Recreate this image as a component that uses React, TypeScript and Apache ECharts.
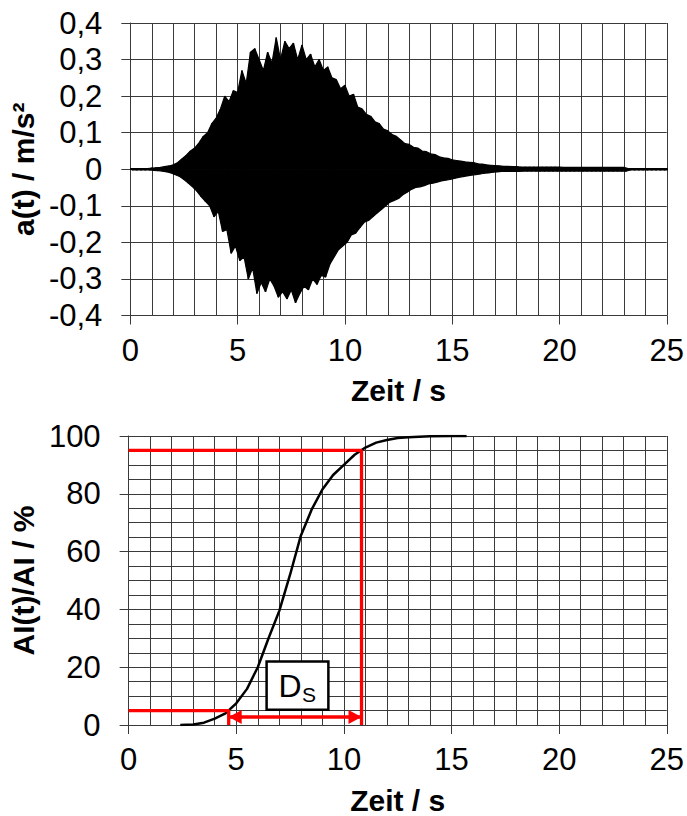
import React, { useEffect, useRef } from "react";
import * as echarts from "echarts";

const FONT = "'Liberation Sans', Arial, Helvetica, sans-serif";

// ---- Top chart: acceleration record a(t), sampled every 0.2 s (upper / lower peaks of the oscillation)
const ACC_T0 = 0;
const ACC_DT = 0.2;
const accUpper = [
  0.002, 0.002, 0.002, 0.002, 0.002, 0.003, 0.004, 0.005, 0.007, 0.009,
  0.012, 0.018, 0.028, 0.038, 0.05, 0.058, 0.072, 0.09, 0.1, 0.125,
  0.14, 0.165, 0.2, 0.185, 0.215, 0.21, 0.27, 0.235, 0.32, 0.33,
  0.3, 0.27, 0.32, 0.29, 0.36, 0.3, 0.35, 0.33, 0.345, 0.3,
  0.34, 0.3, 0.315, 0.28, 0.3, 0.27, 0.28, 0.25, 0.245, 0.22,
  0.23, 0.2, 0.205, 0.17, 0.165, 0.15, 0.145, 0.13, 0.125, 0.11,
  0.105, 0.095, 0.09, 0.08, 0.07, 0.068, 0.06, 0.058, 0.05, 0.048,
  0.042, 0.04, 0.034, 0.031, 0.03, 0.026, 0.024, 0.022, 0.02, 0.019,
  0.018, 0.015, 0.014, 0.012, 0.011, 0.01, 0.009, 0.008, 0.008, 0.007,
  0.007, 0.006, 0.006, 0.006, 0.006, 0.006, 0.006, 0.006, 0.006, 0.006,
  0.006, 0.005, 0.005, 0.005, 0.005, 0.005, 0.005, 0.005, 0.005, 0.005,
  0.005, 0.005, 0.005, 0.005, 0.005, 0.005, 0.002, 0.002, 0.002, 0.002,
  0.002, 0.002, 0.002, 0.002, 0.002, 0.002,
];
const accLower = [
  -0.002, -0.002, -0.002, -0.002, -0.002, -0.003, -0.004, -0.005, -0.007, -0.01,
  -0.015, -0.02, -0.028, -0.038, -0.048, -0.06, -0.075, -0.088, -0.1, -0.13,
  -0.115, -0.17, -0.165, -0.23, -0.21, -0.25, -0.24, -0.3, -0.27, -0.34,
  -0.31, -0.335, -0.3, -0.32, -0.35, -0.335, -0.355, -0.33, -0.365, -0.34,
  -0.32, -0.33, -0.3, -0.315, -0.29, -0.295, -0.26, -0.24, -0.22, -0.21,
  -0.2, -0.18, -0.175, -0.16, -0.145, -0.14, -0.13, -0.12, -0.11, -0.1,
  -0.09, -0.085, -0.08, -0.07, -0.063, -0.055, -0.05, -0.048, -0.045, -0.04,
  -0.038, -0.035, -0.032, -0.03, -0.028, -0.025, -0.022, -0.02, -0.018, -0.016,
  -0.015, -0.013, -0.011, -0.01, -0.008, -0.007, -0.006, -0.006, -0.006, -0.006,
  -0.006, -0.005, -0.005, -0.005, -0.005, -0.005, -0.005, -0.005, -0.005, -0.005,
  -0.005, -0.005, -0.005, -0.005, -0.005, -0.005, -0.005, -0.005, -0.005, -0.005,
  -0.005, -0.005, -0.005, -0.005, -0.005, -0.005, -0.002, -0.002, -0.002, -0.002,
  -0.002, -0.002, -0.002, -0.002, -0.002, -0.002,
];

// ---- Bottom chart: normalised Arias intensity AI(t)/AI in %
const aiTimes = [2.4, 3.0, 3.5, 4.0, 4.5, 5.0, 5.5, 6.0, 6.5, 7.0, 7.5, 8.0, 8.5, 9.0, 9.5, 10.0, 10.5, 11.0, 11.5, 12.0, 12.5, 13.0, 14.0, 15.0, 15.7];
const aiValues = [0, 0.2, 0.8, 2.2, 4.0, 7.5, 12.5, 20, 30, 39.5, 52, 65.5, 74.5, 81.5, 86.5, 90, 93.5, 96, 97.7, 98.6, 99.3, 99.6, 99.9, 100, 100];

// significant duration D_S (5 % .. 95 %)
const DS_LOW = 5;
const DS_HIGH = 95;
const DS_START = 4.65;
const DS_END = 10.82;
const ARROW_LEVEL = 2.8;
const DS_BOX_T = [6.41, 9.28];
const DS_BOX_V = [5.3, 22];

const X_TICKS = { min: 0, max: 25, interval: 5 };
const ACC_TICKS = { min: -0.4, max: 0.4, interval: 0.1 };
const AI_TICKS = { min: 0, max: 100, interval: 20 };

const GRID_COLOR = "#3a3a3a";
const LABEL_SIZE = 31;
const ARROW_SIZE = [14, 13];
const ARROW_OFFSET = [0, 6.5];

const sampleTime = (i: number) => ACC_T0 + i * ACC_DT;

function buildWave(): number[][] {
  const out: number[][] = [];
  for (let i = 0; i < accUpper.length; i++) {
    out.push([sampleTime(i), accUpper[i]]);
    out.push([sampleTime(i) + ACC_DT / 2, accLower[i]]);
  }
  return out;
}

function xAxis(gridIndex: number) {
  return {
    type: "value",
    gridIndex,
    min: X_TICKS.min,
    max: X_TICKS.max,
    interval: X_TICKS.interval,
    name: "Zeit / s",
    nameLocation: "middle",
    nameGap: 60,
    nameTextStyle: { fontSize: 30, fontWeight: "bold", color: "#000", fontFamily: FONT },
    axisLine: { show: true, onZero: false, lineStyle: { color: GRID_COLOR, width: 1 } },
    axisTick: { show: true, length: 9, inside: false, lineStyle: { color: GRID_COLOR, width: 1 } },
    axisLabel: { fontSize: LABEL_SIZE, color: "#000", fontFamily: FONT, margin: 19 },
    splitLine: { show: true, lineStyle: { color: GRID_COLOR, width: 1 } },
    minorTick: { show: false, splitNumber: 5 },
    minorSplitLine: { show: true, lineStyle: { color: GRID_COLOR, width: 1 } },
  };
}

const option = {
  animation: false,
  backgroundColor: "#ffffff",
  grid: [
    { left: 126, right: 18, top: 23, height: 292.5 },
    { left: 124.5, right: 18, top: 436, height: 292.3 },
  ],
  xAxis: [xAxis(0), xAxis(1)],
  yAxis: [
    {
      type: "value",
      gridIndex: 0,
      min: ACC_TICKS.min,
      max: ACC_TICKS.max,
      interval: ACC_TICKS.interval,
      name: "a(t) / m/s²",
      nameLocation: "middle",
      nameRotate: 90,
      nameGap: 89,
      nameTextStyle: { fontSize: 30, fontWeight: "bold", color: "#000", fontFamily: FONT },
      axisLine: { show: true, onZero: false, lineStyle: { color: GRID_COLOR, width: 1 } },
      axisTick: { show: true, length: 9, lineStyle: { color: GRID_COLOR, width: 1 } },
      axisLabel: {
        fontSize: LABEL_SIZE,
        color: "#000",
        fontFamily: FONT,
        margin: 28,
        formatter: (v: number) => (Math.abs(v) < 1e-9 ? "0" : v.toFixed(1).replace(".", ",")),
      },
      splitLine: { show: true, lineStyle: { color: GRID_COLOR, width: 1 } },
    },
    {
      type: "value",
      gridIndex: 1,
      min: AI_TICKS.min,
      max: AI_TICKS.max,
      interval: AI_TICKS.interval,
      name: "AI(t)/AI / %",
      nameLocation: "middle",
      nameRotate: 90,
      nameGap: 89,
      nameTextStyle: { fontSize: 30, fontWeight: "bold", color: "#000", fontFamily: FONT },
      axisLine: { show: true, onZero: false, lineStyle: { color: GRID_COLOR, width: 1 } },
      axisTick: { show: true, length: 9, lineStyle: { color: GRID_COLOR, width: 1 } },
      axisLabel: { fontSize: LABEL_SIZE, color: "#000", fontFamily: FONT, margin: 28 },
      splitLine: { show: true, lineStyle: { color: GRID_COLOR, width: 1 } },
      minorTick: { show: false, splitNumber: 4 },
      minorSplitLine: { show: true, lineStyle: { color: GRID_COLOR, width: 1 } },
    },
  ],
  series: [
    // upper peaks, filled down to zero
    {
      type: "line",
      xAxisIndex: 0,
      yAxisIndex: 0,
      data: accUpper.map((v, i) => [sampleTime(i), v]),
      showSymbol: false,
      silent: true,
      lineStyle: { color: "#000", width: 1.2 },
      areaStyle: { color: "#000", opacity: 1, origin: 0 },
      z: 2,
    },
    // lower peaks, filled up to zero
    {
      type: "line",
      xAxisIndex: 0,
      yAxisIndex: 0,
      data: accLower.map((v, i) => [sampleTime(i) + ACC_DT / 2, v]),
      showSymbol: false,
      silent: true,
      lineStyle: { color: "#000", width: 1.2 },
      areaStyle: { color: "#000", opacity: 1, origin: 0 },
      z: 2,
    },
    // oscillating signal
    {
      type: "line",
      xAxisIndex: 0,
      yAxisIndex: 0,
      data: buildWave(),
      showSymbol: false,
      silent: true,
      lineStyle: { color: "#000", width: 1.5 },
      z: 3,
    },
    {
      type: "line",
      xAxisIndex: 1,
      yAxisIndex: 1,
      data: aiTimes.map((t, i) => [t, aiValues[i]]),
      showSymbol: false,
      silent: true,
      lineStyle: { color: "#000", width: 2.5 },
      z: 3,
    },
    {
      type: "line",
      xAxisIndex: 1,
      yAxisIndex: 1,
      data: [[0, DS_HIGH], [DS_END, DS_HIGH], [DS_END, 0]],
      showSymbol: false,
      silent: true,
      lineStyle: { color: "#ff0000", width: 3.3 },
      z: 4,
    },
    {
      type: "line",
      xAxisIndex: 1,
      yAxisIndex: 1,
      data: [[0, DS_LOW], [DS_START, DS_LOW], [DS_START, 0]],
      showSymbol: false,
      silent: true,
      lineStyle: { color: "#ff0000", width: 3.3 },
      z: 4,
    },
    {
      type: "line",
      xAxisIndex: 1,
      yAxisIndex: 1,
      data: [],
      silent: true,
      z: 5,
      markLine: {
        silent: true,
        animation: false,
        symbol: ["triangle", "triangle"],
        symbolSize: ARROW_SIZE,
        label: { show: false },
        lineStyle: { color: "#ff0000", width: 3.7, type: "solid" },
        itemStyle: { color: "#ff0000" },
        data: [
          [
            { coord: [DS_START, ARROW_LEVEL], symbolSize: ARROW_SIZE, symbolOffset: ARROW_OFFSET },
            { coord: [DS_END, ARROW_LEVEL], symbolSize: ARROW_SIZE, symbolOffset: ARROW_OFFSET },
          ],
        ],
      },
    },
  ],
};

export default function App() {
  const ref = useRef<HTMLDivElement>(null);
  useEffect(() => {
    if (!ref.current) return;
    const chart = echarts.init(ref.current, null, { renderer: "svg" });
    chart.setOption(option as any);
    const p0 = chart.convertToPixel({ gridIndex: 1 } as any, [DS_BOX_T[0], DS_BOX_V[1]]) as number[];
    const p1 = chart.convertToPixel({ gridIndex: 1 } as any, [DS_BOX_T[1], DS_BOX_V[0]]) as number[];
    const midY = (p0[1] + p1[1]) / 2;
    chart.setOption({
      graphic: [
        {
          type: "rect",
          z: 100,
          silent: true,
          shape: { x: p0[0], y: p0[1], width: p1[0] - p0[0], height: p1[1] - p0[1] },
          style: { fill: "#ffffff", stroke: "#000000", lineWidth: 2.5 },
        },
        {
          type: "text",
          z: 101,
          silent: true,
          x: p0[0] + 12,
          y: midY,
          style: { text: "D", fontSize: 32, fontFamily: FONT, fill: "#000", align: "left", verticalAlign: "middle" },
        },
        {
          type: "text",
          z: 101,
          silent: true,
          x: p0[0] + 35.5,
          y: midY + 9,
          style: { text: "S", fontSize: 21, fontFamily: FONT, fill: "#000", align: "left", verticalAlign: "middle" },
        },
      ],
    } as any);
    return () => chart.dispose();
  }, []);
  return (
    <div
      ref={ref}
      style={{ position: "absolute", left: 0, top: 0, width: 687, height: 816, background: "#fff" }}
    />
  );
}
